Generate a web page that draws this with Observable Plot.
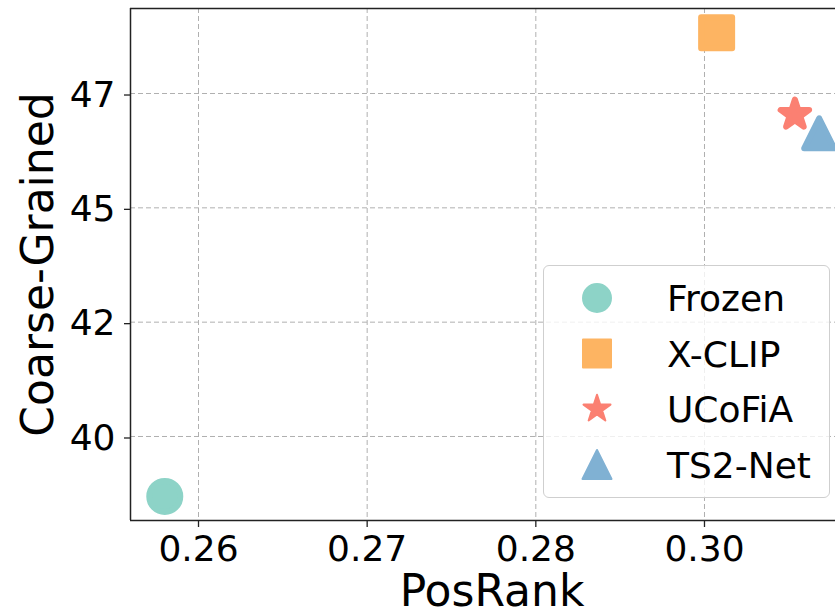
<!DOCTYPE html>
<html>
<head>
<meta charset="utf-8">
<script src="https://cdn.jsdelivr.net/npm/d3@7"></script>
<script src="https://cdn.jsdelivr.net/npm/@observablehq/plot@0.6"></script>
<style>
html, body { margin: 0; padding: 0; background: #fff; overflow: hidden; }
#wrap { position: relative; width: 835px; height: 616px; font-family: "DejaVu Sans", sans-serif; }
#legend { position: absolute; left: 543px; top: 265px; width: 287px; height: 233px; box-sizing: border-box;
  border: 1px solid #cfcfcf; border-radius: 6px; background: rgba(255,255,255,0.8); }
#legend svg { position: absolute; left: 0; top: 0; overflow: visible; }
</style>
</head>
<body>
<div id="wrap"></div>
<script>
// ---- data ----
const methods = ["Frozen", "X-CLIP", "UCoFiA", "TS2-Net"];
const posRank = [0.2575, 0.2984, 0.3042, 0.3060];
const coarseGrained = [38.69, 48.83, 47.04, 46.63];
const xTicks = [0.26, 0.2725, 0.285, 0.2975];
const xTickLabels = ["0.26", "0.27", "0.28", "0.30"];
const yTicks = [40, 42.5, 45, 47.5];
const yTickLabels = ["40", "42", "45", "47"];
const xLabel = "PosRank";
const yLabel = "Coarse-Grained";

// ---- styles ----
const colors = ["#8dd3c7", "#fdb462", "#fb8072", "#80b1d3"];
const symbolNames = ["circle", "square", "star", "triangle"];
const markerR = [15.5, 15.5, 15, 15];
const markerStroke = 6;
const legendR = [14, 14, 14.2, 14.5];

const symbolDefs = {
  circle: {draw(ctx, size) { const r = Math.sqrt(size / Math.PI); ctx.moveTo(r, 0); ctx.arc(0, 0, r, 0, 2 * Math.PI); ctx.closePath(); }},
  square: {draw(ctx, size) { const r = Math.sqrt(size / Math.PI); ctx.rect(-r, -r, 2 * r, 2 * r); }},
  star: {draw(ctx, size) {
    const R = Math.sqrt(size / Math.PI), ri = R * 0.382;
    for (let k = 0; k < 10; k++) {
      const a = -Math.PI / 2 + k * Math.PI / 5, rr = k % 2 ? ri : R;
      const x = rr * Math.cos(a), y = rr * Math.sin(a);
      if (k) ctx.lineTo(x, y); else ctx.moveTo(x, y);
    }
    ctx.closePath();
  }},
  triangle: {draw(ctx, size) { const r = Math.sqrt(size / Math.PI); ctx.moveTo(0, -r); ctx.lineTo(r, r); ctx.lineTo(-r, r); ctx.closePath(); }}
};

const xDomain = [0.25496, 0.30721];
const yDomain = [38.163, 49.359];

const dotMarks = methods.map((m, i) => Plot.dot([i], {
  x: j => posRank[j], y: j => coarseGrained[j],
  r: markerR[i], symbol: symbolDefs[symbolNames[i]],
  fill: colors[i], stroke: colors[i], strokeWidth: markerStroke, strokeLinejoin: "round"
}));

const chart = Plot.plot({
  width: 835, height: 616,
  marginLeft: 130, marginRight: 0, marginTop: 8, marginBottom: 96,
  style: {fontFamily: '"DejaVu Sans", sans-serif', background: "white", color: "#000"},
  x: {domain: xDomain, label: null},
  y: {domain: yDomain, label: null},
  marks: [
    Plot.gridX(xTicks, {stroke: "#b0b0b0", strokeOpacity: 1, strokeWidth: 1, strokeDasharray: "5,3"}),
    Plot.gridY(yTicks, {stroke: "#b0b0b0", strokeOpacity: 1, strokeWidth: 1, strokeDasharray: "5,3"}),
    Plot.axisX(xTicks, {tickFormat: d => xTickLabels[xTicks.indexOf(d)], tickSize: 7, tickPadding: 8, fontSize: 36, label: null, stroke: "#222", strokeWidth: 1.3}),
    Plot.axisY(yTicks, {tickFormat: d => yTickLabels[yTicks.indexOf(d)], tickSize: 6, tickPadding: 9, fontSize: 36, label: null, stroke: "#222", strokeWidth: 1.3, dy: 1.5}),
    ...dotMarks,
    Plot.ruleX([xDomain[0]], {stroke: "#222", strokeWidth: 1.5}),
    Plot.ruleY(yDomain, {stroke: "#222", strokeWidth: 1.5}),
    Plot.text([xLabel], {frameAnchor: "bottom", fontSize: 44, textAnchor: "middle", lineAnchor: "middle", dx: 9, dy: 71, fill: "#000"}),
    Plot.text([yLabel], {frameAnchor: "left", rotate: -90, fontSize: 44, textAnchor: "middle", lineAnchor: "middle", dx: -92, fill: "#000"})
  ]
});

const wrap = document.getElementById("wrap");
wrap.appendChild(chart);

// ---- legend ----
const legend = document.createElement("div");
legend.id = "legend";
wrap.appendChild(legend);
const lsvg = d3.select(legend).append("svg").attr("width", 287).attr("height", 233);
methods.forEach((m, i) => {
  const cy = 32 + i * 55.5;
  lsvg.append("path")
    .attr("transform", `translate(53,${cy})`)
    .attr("d", d3.symbol(symbolDefs[symbolNames[i]], Math.PI * legendR[i] * legendR[i])())
    .attr("fill", colors[i]).attr("stroke", colors[i]).attr("stroke-width", 2).attr("stroke-linejoin", "round");
  lsvg.append("text")
    .attr("x", 123).attr("y", cy + 13)
    .attr("font-family", '"DejaVu Sans", sans-serif').attr("font-size", 36).attr("fill", "#000")
    .text(m);
});
</script>
</body>
</html>
